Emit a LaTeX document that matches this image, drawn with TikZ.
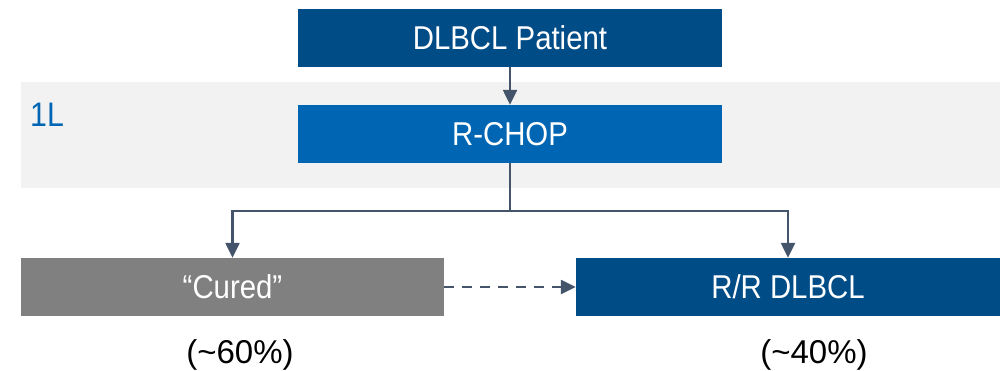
\documentclass[tikz,border=0pt]{standalone}
\usepackage{fontspec}
\setmainfont[FakeStretch=0.89]{Liberation Sans}
\newfontfamily\pctfont{Liberation Sans}
\usetikzlibrary{arrows.meta}
\definecolor{darkblue}{HTML}{004C87}
\definecolor{midblue}{HTML}{0066B3}
\definecolor{boxgray}{HTML}{808080}
\definecolor{bandgray}{HTML}{F2F2F2}
\definecolor{linecol}{HTML}{44546A}
\tikzset{
  box/.style={draw=none, minimum height=58pt, inner sep=0pt, text=white, font=\fontsize{33}{38}\selectfont},
  conn/.style={draw=linecol, line width=2.4pt, -{Triangle[length=15pt,width=14pt]}},
  pct/.style={font=\pctfont\fontsize{33}{38}\selectfont, text=black},
}
\begin{document}
\begin{tikzpicture}[x=1pt,y=-1pt]
\useasboundingbox (0,0) rectangle (1000,371);
\fill[bandgray] (21,82) rectangle (1000,188);
\node[anchor=west, inner sep=0pt, text=midblue, font=\fontsize{34}{38}\selectfont] (oneL) at (30,115) {1L};
\node[box, fill=darkblue, minimum width=424pt] (pat) at (510,38) {DLBCL Patient};
\node[box, fill=midblue, minimum width=424pt] (rchop) at (510,134) {R-CHOP};
\node[box, fill=boxgray, minimum width=423pt] (cured) at (232.5,287) {“Cured”};
\node[box, fill=darkblue, minimum width=424pt] (rr) at (788,287) {R/R DLBCL};
\node[pct] (p60) at (240,355) {(\char"7E\relax 60\%)};
\node[pct] (p40) at (814,355) {(\char"7E\relax 40\%)};
\coordinate (split) at (510,211);
\draw[conn] (pat.south) -- (rchop.north);
\draw[draw=linecol, line width=2.4pt] (rchop.south) -- (split);
\draw[conn] (split) -| (cured.north);
\draw[conn] (split) -| (rr.north);
\draw[conn, dash pattern=on 10pt off 8pt] (cured.east) -- (rr.west);
\end{tikzpicture}
\end{document}
